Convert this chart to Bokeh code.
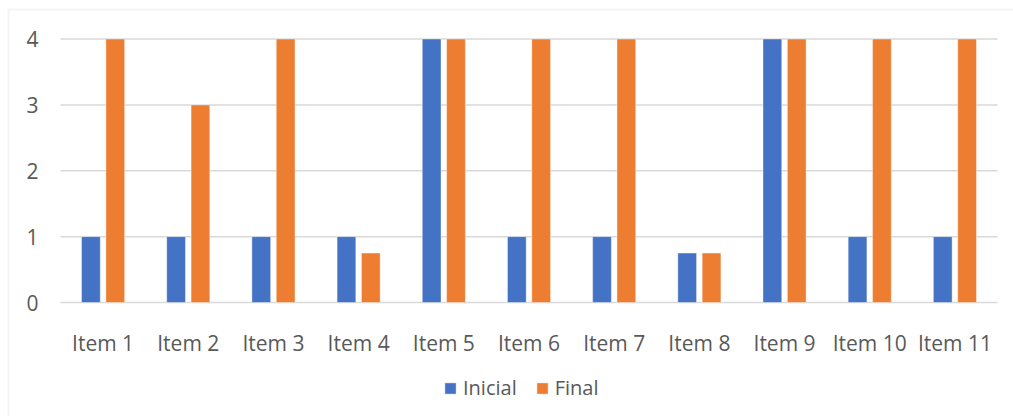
from bokeh.plotting import figure
from bokeh.models import (ColumnDataSource, Range1d, Legend, LegendItem, BoxAnnotation)
from bokeh.transform import dodge
from bokeh.embed import file_html
from bokeh.resources import INLINE

items = ["Item 1", "Item 2", "Item 3", "Item 4", "Item 5", "Item 6",
         "Item 7", "Item 8", "Item 9", "Item 10", "Item 11"]
inicial = [1, 1, 1, 1, 4, 1, 1, 0.75, 4, 1, 1]
final = [4, 3, 4, 0.75, 4, 4, 4, 0.75, 4, 4, 4]
y_ticks = [0, 1, 2, 3, 4]

BLUE = "#4472C4"
ORANGE = "#ED7D31"
TEXT = "#595959"
GRID = "#D9D9D9"
FONT = "Open Sans"

W, H = 1013, 416
# plot area in pixels: categories span 60..997, values 0..4 span 302..38.5
PX_LEFT, PX_RIGHT, PX_BOTTOM, PX_TOP = 60, 997, 302, 38.5
n = len(items)
cat_px = (PX_RIGHT - PX_LEFT) / n
val_px = (PX_BOTTOM - PX_TOP) / max(y_ticks)
x_range = Range1d(0.5 - PX_LEFT / cat_px, 0.5 + (W - PX_LEFT) / cat_px)
y_range = Range1d(-(H - PX_BOTTOM) / val_px, max(y_ticks) + PX_TOP / val_px)

xs = list(range(1, n + 1))
source = ColumnDataSource(dict(x=xs, items=items, inicial=inicial, final=final))

p = figure(width=W, height=H, x_range=x_range, y_range=y_range,
           output_backend="svg", toolbar_location=None,
           x_axis_location=None, y_axis_location=None, min_border=0)
p.outline_line_color = None
p.grid.visible = False

# horizontal gridlines across the category span
p.segment(x0=0.5, x1=n + 0.5, y0=y_ticks, y1=y_ticks, line_color=GRID, line_width=1.5)

r1 = p.vbar(x=dodge("x", -0.143), top="inicial", width=0.22, source=source,
            fill_color=BLUE, line_color="white", line_alpha=0.4, line_width=1)
r2 = p.vbar(x=dodge("x", 0.143), top="final", width=0.22, source=source,
            fill_color=ORANGE, line_color="white", line_alpha=0.4, line_width=1)

# value labels on the left
p.text(x=[0.5] * len(y_ticks), y=y_ticks, text=[str(t) for t in y_ticks],
       x_offset=-22, text_align="right", text_baseline="middle",
       text_font={"value": FONT}, text_font_size="21px", text_color=TEXT)

# category labels below the plot area
p.text(x="x", y=0, text="items", source=source, y_offset=40,
       text_align="center", text_baseline="alphabetic",
       text_font={"value": FONT}, text_font_size="21px", text_color=TEXT)

legend = Legend(items=[LegendItem(label="Inicial", renderers=[r1]),
                       LegendItem(label="Final", renderers=[r2])],
                orientation="horizontal", location=(443, 15),
                glyph_width=14, glyph_height=14, label_standoff=6, spacing=18,
                label_text_font=FONT, label_text_font_size="20px", label_text_color=TEXT,
                padding=0, margin=0, border_line_color=None, background_fill_alpha=0)
p.add_layout(legend, "center")

# chart area border
p.add_layout(BoxAnnotation(left=8, right=W + 100, top=H - 9, bottom=-100,
                           left_units="screen", right_units="screen",
                           top_units="screen", bottom_units="screen",
                           fill_alpha=0, line_color=GRID, line_width=2))

open("out.html", "w").write(file_html(p, INLINE))
